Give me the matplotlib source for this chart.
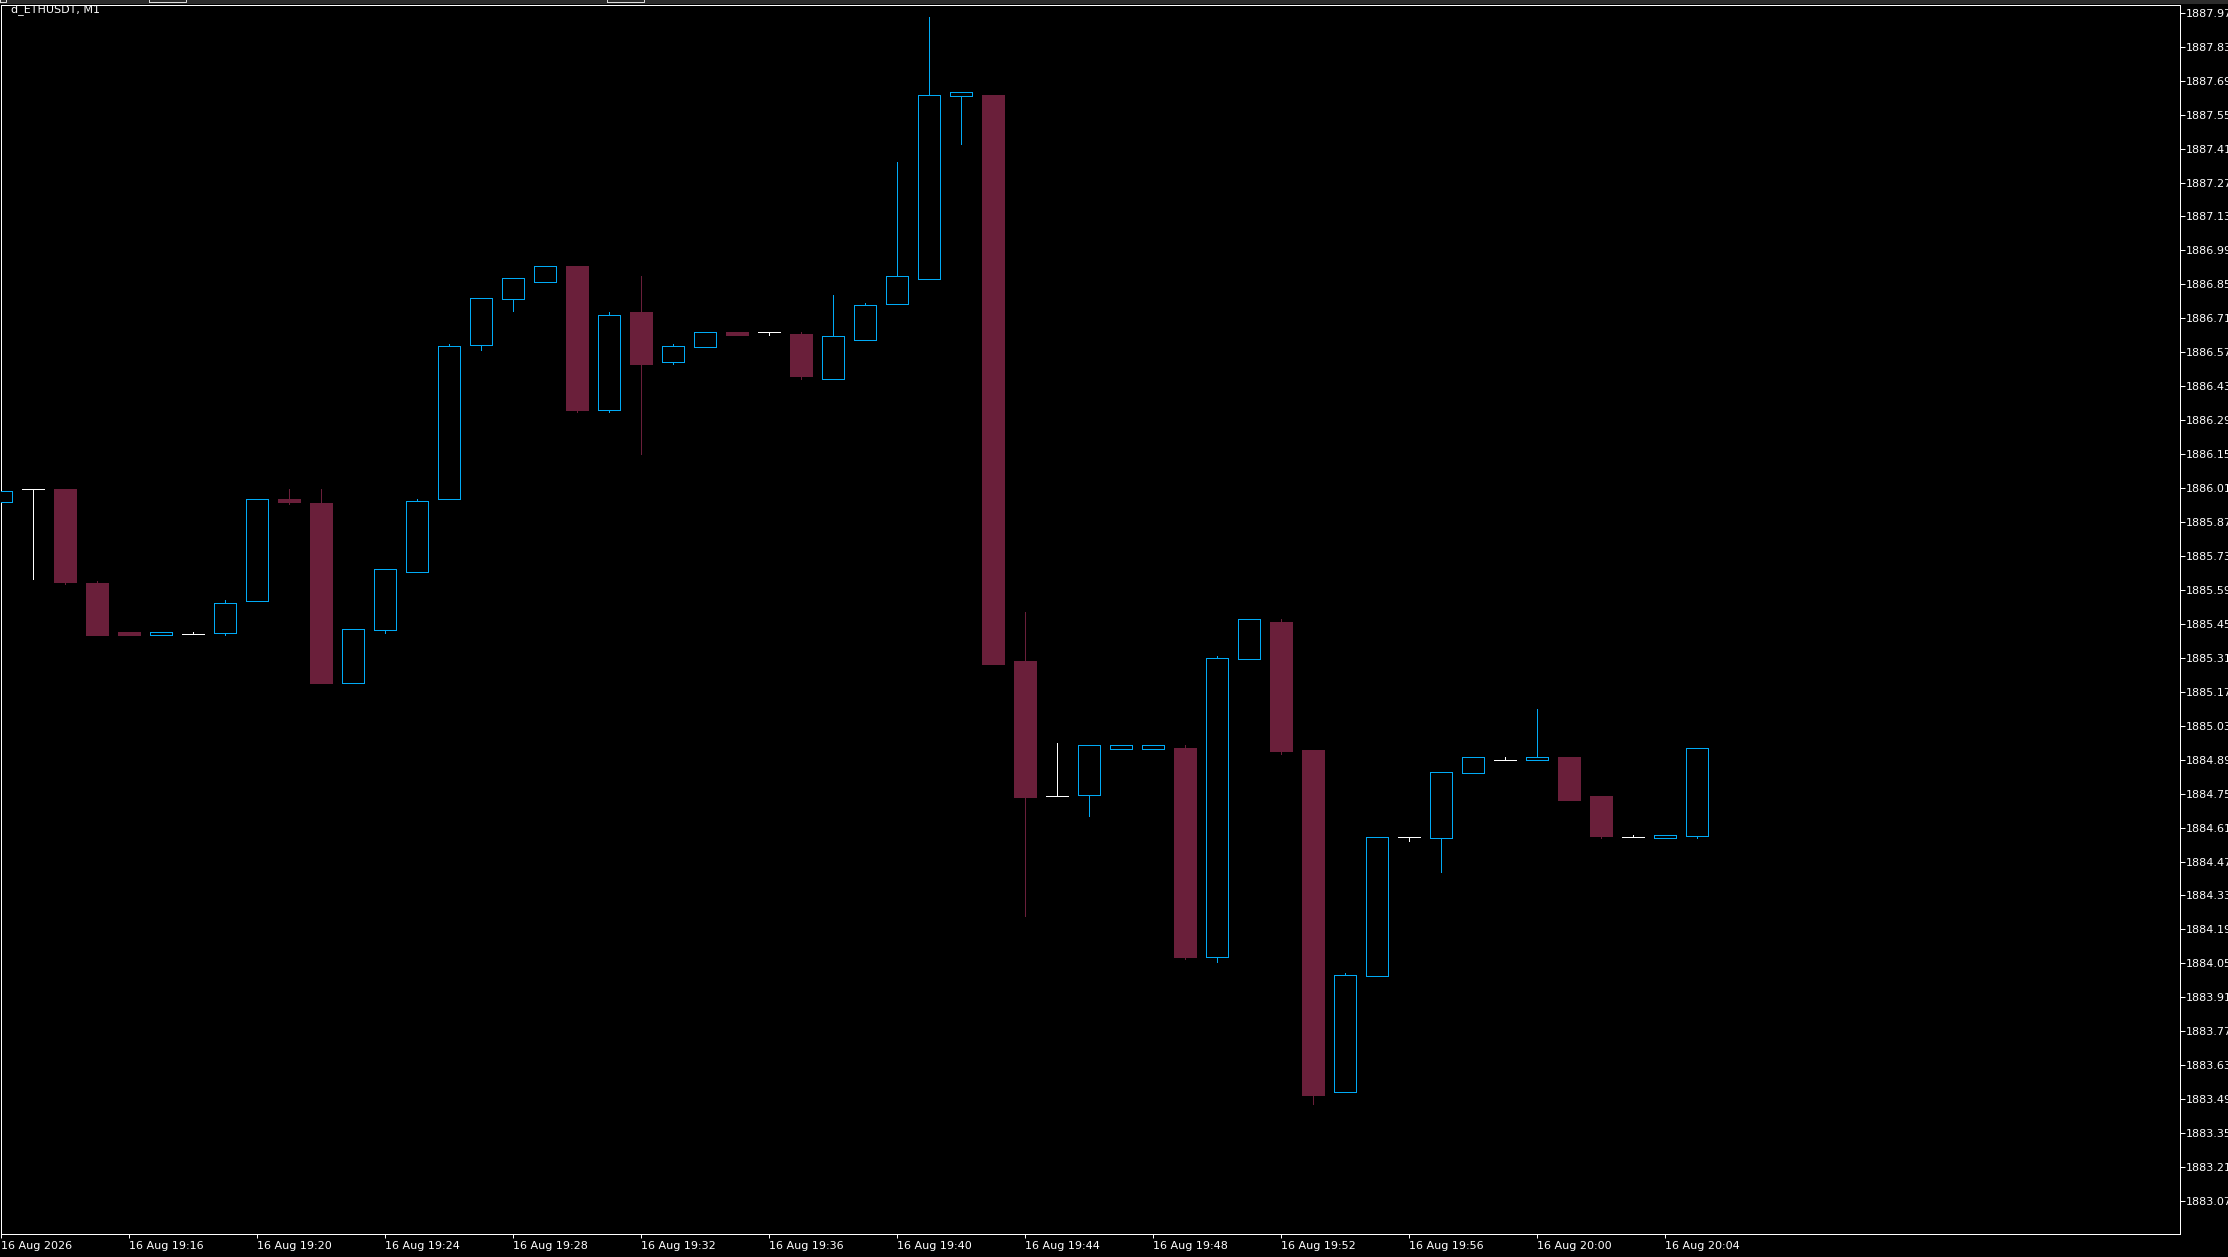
"""MT4-style M1 candlestick chart of d_ETHUSDT, black background."""

import matplotlib
matplotlib.use("Agg")
import matplotlib.pyplot as plt
from matplotlib.patches import Rectangle

# ---------------------------------------------------------------------
# Data: one-minute bars from 16 Aug 19:12 to 20:05
# ---------------------------------------------------------------------
opens = [1885.954, 1886.005, 1886.006, 1885.618, 1885.416, 1885.405, 1885.407,
         1885.413, 1885.545, 1885.965, 1885.948, 1885.207, 1885.426, 1885.665,
         1885.963, 1886.601, 1886.791, 1886.861, 1886.925, 1886.333, 1886.736,
         1886.531, 1886.593, 1886.653, 1886.652, 1886.645, 1886.461, 1886.622,
         1886.770, 1886.873, 1887.628, 1887.630, 1885.297, 1884.739, 1884.745,
         1884.935, 1884.935, 1884.938, 1884.077, 1885.306, 1885.457, 1884.930,
         1883.520, 1883.999, 1884.570, 1884.569, 1884.837, 1884.887, 1884.887,
         1884.901, 1884.740, 1884.570, 1884.568, 1884.576]
highs = [1885.996, 1886.005, 1886.006, 1885.627, 1885.416, 1885.415, 1885.415,
         1885.548, 1885.963, 1886.006, 1886.006, 1885.427, 1885.675, 1885.965,
         1886.604, 1886.792, 1886.875, 1886.924, 1886.925, 1886.736, 1886.884,
         1886.604, 1886.652, 1886.653, 1886.652, 1886.653, 1886.806, 1886.773,
         1887.354, 1887.952, 1887.642, 1887.630, 1885.499, 1884.959, 1884.949,
         1884.949, 1884.949, 1884.950, 1885.317, 1885.469, 1885.470, 1884.930,
         1884.009, 1884.570, 1884.570, 1884.838, 1884.900, 1884.900, 1885.099,
         1884.901, 1884.740, 1884.579, 1884.578, 1884.937]
lows = [1885.954, 1885.636, 1885.615, 1885.404, 1885.404, 1885.405, 1885.407,
        1885.405, 1885.545, 1885.945, 1885.206, 1885.207, 1885.413, 1885.665,
        1885.963, 1886.579, 1886.740, 1886.861, 1886.323, 1886.323, 1886.150,
        1886.521, 1886.593, 1886.641, 1886.641, 1886.461, 1886.461, 1886.622,
        1886.770, 1886.873, 1887.429, 1885.284, 1884.246, 1884.739, 1884.659,
        1884.935, 1884.935, 1884.068, 1884.057, 1885.306, 1884.914, 1883.471,
        1883.520, 1883.999, 1884.556, 1884.428, 1884.837, 1884.887, 1884.887,
        1884.723, 1884.568, 1884.570, 1884.568, 1884.568]
closes = [1885.996, 1886.005, 1885.622, 1885.404, 1885.404, 1885.415, 1885.407,
          1885.535, 1885.963, 1885.952, 1885.206, 1885.427, 1885.675, 1885.955,
          1886.594, 1886.792, 1886.875, 1886.924, 1886.332, 1886.722, 1886.521,
          1886.594, 1886.652, 1886.641, 1886.652, 1886.472, 1886.636, 1886.763,
          1886.883, 1887.629, 1887.642, 1885.284, 1884.736, 1884.739, 1884.949,
          1884.949, 1884.949, 1884.076, 1885.308, 1885.469, 1884.926, 1883.507,
          1884.000, 1884.570, 1884.570, 1884.838, 1884.900, 1884.887, 1884.900,
          1884.723, 1884.575, 1884.570, 1884.578, 1884.937]

# candle index of each time label (every 4 bars) and its text
time_tick_bars = [0, 4, 8, 12, 16, 20, 24, 28, 32, 36, 40, 44, 48, 52]
time_tick_labels = ["16 Aug 2026", "16 Aug 19:16", "16 Aug 19:20", "16 Aug 19:24",
                    "16 Aug 19:28", "16 Aug 19:32", "16 Aug 19:36", "16 Aug 19:40",
                    "16 Aug 19:44", "16 Aug 19:48", "16 Aug 19:52", "16 Aug 19:56",
                    "16 Aug 20:00", "16 Aug 20:04"]

price_tick_labels = ["1887.97", "1887.83", "1887.69", "1887.55", "1887.41", "1887.27",
                     "1887.13", "1886.99", "1886.85", "1886.71", "1886.57", "1886.43",
                     "1886.29", "1886.15", "1886.01", "1885.87", "1885.73", "1885.59",
                     "1885.45", "1885.31", "1885.17", "1885.03", "1884.89", "1884.75",
                     "1884.61", "1884.47", "1884.33", "1884.19", "1884.05", "1883.91",
                     "1883.77", "1883.63", "1883.49", "1883.35", "1883.21", "1883.07"]

symbol_label = "d_ETHUSDT, M1"

# ---------------------------------------------------------------------
# Style
# ---------------------------------------------------------------------
BULL = "#00AAF5"
BEAR = "#6A1F3A"
DOJI = "#FFFFFF"
FG = "#FFFFFF"
PX = 0.72  # one pixel in points at dpi 100
BODY_W = 0.7

W, H = 2228, 1257
fig = plt.figure(figsize=(W / 100, H / 100), dpi=100, facecolor="black")

# grey toolbar strip above the chart window
fig.patches.append(Rectangle((0, 1 - 4 / H), 1, 4 / H, transform=fig.transFigure,
                             facecolor="#2b2b2b", edgecolor="none"))
for x0, x1 in [(0, 6), (149, 186), (607, 644)]:
    fig.patches.append(Rectangle((x0 / W, 1 - 1.5 / H), (x1 - x0) / W, 3 / H,
                                 transform=fig.transFigure, facecolor="none",
                                 edgecolor="#dddddd", linewidth=PX))

ax = fig.add_axes([1 / W, (H - 1234) / H, 2179 / W, 1229 / H])
ax.set_facecolor("black")

for i, (o, h, l, c) in enumerate(zip(opens, highs, lows, closes)):
    if c > o:
        ax.vlines(i, l, h, color=BULL, linewidth=PX, zorder=2, antialiased=False)
        ax.add_patch(Rectangle((i - BODY_W / 2, o), BODY_W, c - o, facecolor="black",
                               edgecolor=BULL, linewidth=PX, zorder=3,
                               antialiased=False))
    elif c < o:
        ax.vlines(i, l, h, color=BEAR, linewidth=PX, zorder=2, antialiased=False)
        ax.add_patch(Rectangle((i - BODY_W / 2, c), BODY_W, o - c, facecolor=BEAR,
                               edgecolor=BEAR, linewidth=PX, zorder=3,
                               antialiased=False))
    else:
        ax.vlines(i, l, h, color=DOJI, linewidth=PX, zorder=2, antialiased=False)
        ax.hlines(o, i - BODY_W / 2, i + BODY_W / 2, color=DOJI, linewidth=PX,
                  zorder=3, antialiased=False)

ax.set_xlim(0, 2179 / 32)
ax.set_ylim(1882.934, 1888.002)

ax.set_xticks(time_tick_bars)
ax.set_xticklabels(time_tick_labels, ha="left")
ax.set_yticks([float(v) for v in price_tick_labels])
ax.set_yticklabels(price_tick_labels)
ax.yaxis.tick_right()

ax.tick_params(axis="x", colors=FG, labelsize=8, length=3, width=PX, pad=2,
               direction="out")
ax.tick_params(axis="y", colors=FG, labelsize=8, length=3.6, width=PX, pad=0.8,
               direction="out")
for side in ("left", "right", "top", "bottom"):
    ax.spines[side].set_color(FG)
    ax.spines[side].set_linewidth(PX)

ax.text(11 / W, 1 - 12.5 / H, symbol_label, transform=fig.transFigure, color=FG,
        fontsize=8, va="baseline", ha="left", clip_on=True)

fig.savefig("out.png", dpi=100, facecolor="black")
